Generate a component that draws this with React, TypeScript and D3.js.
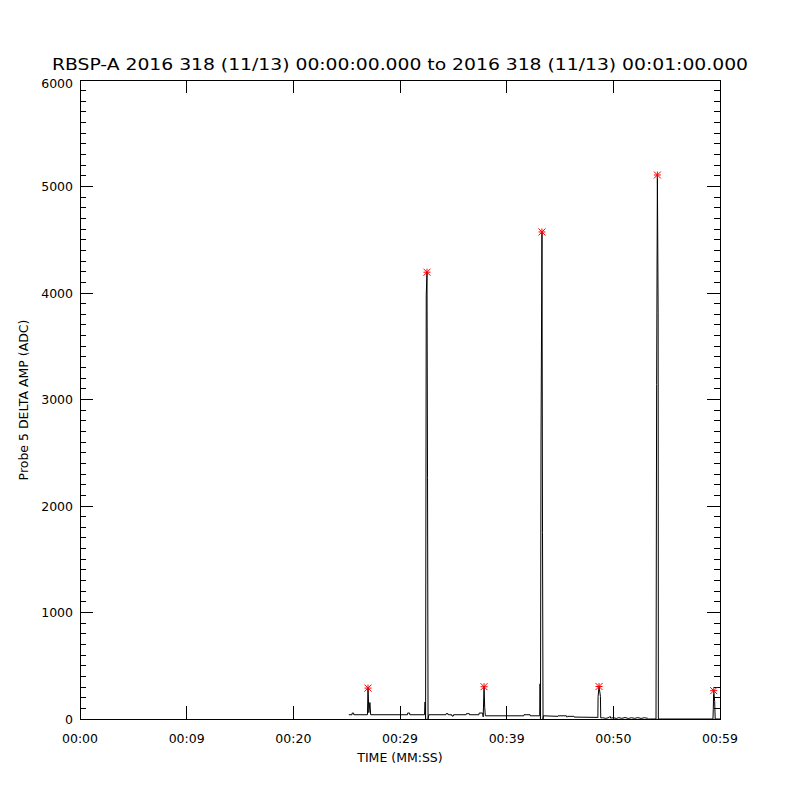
import React from "react";
import * as d3 from "d3";

const title = "RBSP-A 2016 318 (11/13) 00:00:00.000 to 2016 318 (11/13) 00:01:00.000";
const xTitle = "TIME (MM:SS)";
const yTitle = "Probe 5 DELTA AMP (ADC)";

const xTickValues = [0, 10, 20, 30, 40, 50, 60];
const xTickLabels = ["00:00", "00:09", "00:20", "00:29", "00:39", "00:50", "00:59"];
const yTickValues = [0, 1000, 2000, 3000, 4000, 5000, 6000];
const yTickLabels = ["0", "1000", "2000", "3000", "4000", "5000", "6000"];

// time (s) / value (ADC)
const times = [
  25.2, 25.5, 25.52, 25.65, 25.67,
  26.95, 27.0, 27.08, 27.18, 27.25,
  30.7, 30.72, 30.9, 30.92,
  32.3, 32.35, 32.4, 32.46, 32.53, 32.58, 32.63, 32.7,
  34.3, 34.32, 34.5, 34.52, 34.85, 34.87, 35.0, 35.02,
  36.2, 36.22, 36.5, 36.52,
  37.4, 37.42, 37.75, 37.8, 37.88, 37.94, 38.0,
  41.6, 41.62, 42.2, 42.22,
  43.1, 43.13, 43.17, 43.22, 43.31, 43.36, 43.41, 43.45,
  44.8, 44.82, 45.6, 45.62, 45.7, 45.72, 46.3, 46.32, 48.5,
  48.55, 48.57, 48.66, 48.79, 48.82,
  49.0, 49.3, 49.6, 49.7, 49.75, 50.0, 50.3, 50.5, 50.8, 51.1, 51.4, 51.7, 52.0, 52.3, 52.6, 52.9, 53.2, 53.3,
  54.0, 54.06, 54.13, 54.2, 54.22,
  59.34, 59.37, 59.41, 59.5, 59.55, 60.0,
];
const values = [
  40, 40, 56, 56, 40,
  40, 290, 60, 155, 40,
  40, 56, 56, 40,
  40, 160, 0, 3980, 4195, 2270, 0, 40,
  40, 50, 50, 40, 40, 28, 28, 40,
  40, 50, 50, 40,
  40, 56, 56, 20, 303, 110, 30,
  30, 40, 40, 30,
  30, 330, 0, 2600, 4573, 1750, 0, 30,
  25, 30, 30, 20, 20, 25, 25, 18, 15,
  12, 212, 305, 212, 10,
  12, 6, 14, 25, 8, 12, 5, 13, 6, 14, 5, 12, 6, 13, 5, 12, 7, 0,
  0, 3140, 5108, 3820, 0,
  0, 88, 266, 165, 0, 0,
];

const peakTimes = [27.0, 32.53, 37.88, 43.31, 48.66, 54.13, 59.41];
const peakValues = [290, 4195, 303, 4573, 305, 5108, 266];

export default function App() {
  const left = 80, right = 720, top = 80, bottom = 719;
  const x = d3.scaleLinear().domain([0, 60]).range([left, right]);
  const y = d3.scaleLinear().domain([0, 6000]).range([bottom, top]);
  const pts: [number, number][] = times.map((t, i) => [t, values[i]]);
  const line = d3.line<[number, number]>().x((d) => x(d[0])).y((d) => y(d[1]));
  const minorY = d3.range(0, 6001, 100).filter((v) => v % 1000 !== 0);
  const font = "DejaVu Sans, sans-serif";
  const majorLen = 13, minorLen = 6;
  const r = 3.5;

  return (
    <svg width={800} height={800} style={{ position: "absolute", left: 0, top: 0, background: "#fff" }}>
      <rect x={0} y={0} width={800} height={800} fill="#fff" />
      <text x={400} y={70} textAnchor="middle" fontFamily={font} fontSize={16} textLength={696} lengthAdjust="spacingAndGlyphs" fill="#000">
        {title}
      </text>
      <g stroke="#000" strokeWidth={1} shapeRendering="crispEdges" fill="none">
        <rect x={left} y={top} width={right - left} height={bottom - top} />
        {xTickValues.map((v) => (
          <g key={"xt" + v}>
            <line x1={x(v)} x2={x(v)} y1={bottom} y2={bottom - majorLen} />
            <line x1={x(v)} x2={x(v)} y1={top} y2={top + majorLen} />
          </g>
        ))}
        {yTickValues.map((v) => (
          <g key={"yt" + v}>
            <line x1={left} x2={left + majorLen} y1={y(v)} y2={y(v)} />
            <line x1={right} x2={right - majorLen} y1={y(v)} y2={y(v)} />
          </g>
        ))}
        {minorY.map((v) => (
          <g key={"ym" + v}>
            <line x1={left} x2={left + minorLen} y1={y(v)} y2={y(v)} />
            <line x1={right} x2={right - minorLen} y1={y(v)} y2={y(v)} />
          </g>
        ))}
      </g>
      <path d={line(pts) || ""} stroke="#000" strokeWidth={1} fill="none" />
      <g stroke="#ff0000" strokeWidth={1}>
        {peakTimes.map((t, i) => {
          const cx = x(t), cy = y(peakValues[i]);
          return (
            <g key={"pk" + i}>
              <line x1={cx - r} x2={cx + r} y1={cy} y2={cy} />
              <line x1={cx} x2={cx} y1={cy - r} y2={cy + r} />
              <line x1={cx - r} x2={cx + r} y1={cy - r} y2={cy + r} />
              <line x1={cx - r} x2={cx + r} y1={cy + r} y2={cy - r} />
            </g>
          );
        })}
      </g>
      <g fontFamily={font} fontSize={12.5} fill="#000">
        {xTickValues.map((v, i) => (
          <text key={"xl" + v} x={x(v)} y={743} textAnchor="middle">
            {xTickLabels[i]}
          </text>
        ))}
        {yTickValues.map((v, i) => (
          <text key={"yl" + v} x={73} y={y(v) + (v === 6000 ? 8 : 4.5)} textAnchor="end">
            {yTickLabels[i]}
          </text>
        ))}
      </g>
      <text x={400} y={762} textAnchor="middle" fontFamily={font} fontSize={12.5} fill="#000">
        {xTitle}
      </text>
      <text transform="translate(28,400) rotate(-90)" textAnchor="middle" fontFamily={font} fontSize={12.5} fill="#000">
        {yTitle}
      </text>
    </svg>
  );
}
